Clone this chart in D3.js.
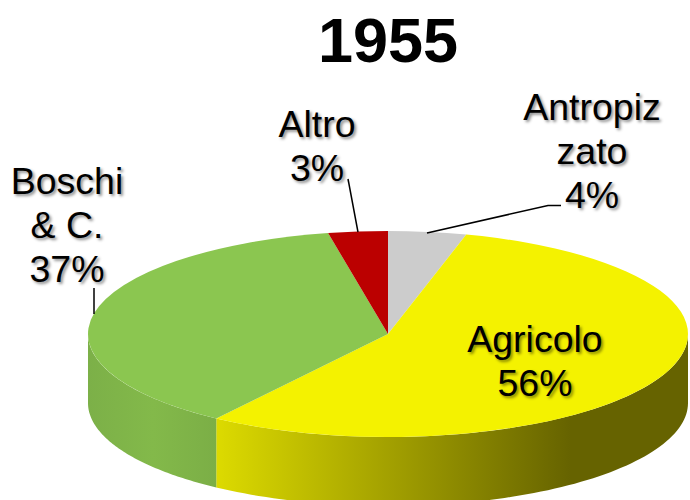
<!DOCTYPE html>
<html>
<head>
<meta charset="utf-8">
<script src="https://cdn.jsdelivr.net/npm/d3@7"></script>
<style>
  html, body { margin: 0; padding: 0; background: #fff; }
  svg { display: block; }
  text { font-family: "Liberation Sans", Arial, sans-serif; fill: #000; }
  .lab { font-size: 37.5px; text-shadow: 2px 2px 3px rgba(0,0,0,0.45); }
</style>
</head>
<body>
<div id="pie_chart"></div>
<script>
const title = "1955";
const categories = ["Antropizzato", "Agricolo", "Boschi & C.", "Altro"];
// slice sizes as measured on the picture, the printed labels are rounded
const values = [4.2, 55.5, 37.1, 3.2];
const labelLines = [["Antropiz", "zato", "4%"], ["Agricolo", "56%"], ["Boschi", "& C.", "37%"], ["Altro", "3%"]];

const topColors = ["#cccccc", "#f4f200", "#8bc650", "#bb0000"];

const width = 690, height = 500;
const cx = 388, cy = 334, rx = 300, ry = 103, depth = 69;

// where each label sits, and its leader line (same order as categories)
const labelPos = [
  {x: 592, y: 120, line: [[561, 205.5], [548, 205.5], [427, 233]]},
  {x: 535, y: 352, line: null},
  {x: 67, y: 194, line: [[94, 288], [94, 314]]},
  {x: 317, y: 137, line: [[348, 179], [358, 232]]}
];

var svg = d3.select("#pie_chart")
  .append("svg")
    .attr("width", width)
    .attr("height", height);

var defs = svg.append("defs");

// walls are shaded left to right
var xShade = d3.scaleLinear().domain([0, 1]).range([218, 688]);
var yellowGrad = defs.append("linearGradient")
    .attr("id", "wallYellow")
    .attr("gradientUnits", "userSpaceOnUse")
    .attr("x1", xShade(0)).attr("x2", xShade(1)).attr("y1", 0).attr("y2", 0);
yellowGrad.append("stop").attr("offset", "0").attr("stop-color", "#dcda00");
yellowGrad.append("stop").attr("offset", "0.75").attr("stop-color", "#666300");
yellowGrad.append("stop").attr("offset", "1").attr("stop-color", "#666300");

var greenGrad = defs.append("linearGradient")
    .attr("id", "wallGreen")
    .attr("gradientUnits", "userSpaceOnUse")
    .attr("x1", 88).attr("x2", 218).attr("y1", 0).attr("y2", 0);
greenGrad.append("stop").attr("offset", "0").attr("stop-color", "#7cb048");
greenGrad.append("stop").attr("offset", "0.5").attr("stop-color", "#83b94a");
greenGrad.append("stop").attr("offset", "1").attr("stop-color", "#7bae46");

var pie = d3.pie().sort(null).value(function(d) { return d; });
var arcs = pie(values);

var arc = d3.arc().innerRadius(0).outerRadius(rx);

// outer wall for the part of a slice that faces the viewer
function wallPath(d) {
  var a0 = Math.max(d.startAngle, Math.PI / 2),
      a1 = Math.min(d.endAngle, Math.PI * 1.5);
  if (a1 <= a0) return null;
  var steps = 80, top = [], bottom = [];
  d3.range(steps + 1).forEach(function(i) {
    var a = a0 + (a1 - a0) * i / steps;
    var px = cx + rx * Math.sin(a), py = cy - ry * Math.cos(a);
    top.push([px, py]);
    bottom.unshift([px, py + depth]);
  });
  return d3.line()(top.concat(bottom)) + "Z";
}

// Walls
svg.selectAll("path.wall")
  .data(arcs)
  .enter()
  .append("path")
    .attr("class", "wall")
    .attr("d", wallPath)
    .attr("fill", function(d, i) { return i == 1 ? "url(#wallYellow)" : "url(#wallGreen)"; });

// Top of the pie
svg.append("g")
    .attr("transform", "translate(" + cx + "," + cy + ") scale(1," + (ry / rx) + ")")
  .selectAll("path.slice")
  .data(arcs)
  .enter()
  .append("path")
    .attr("class", "slice")
    .attr("d", arc)
    .attr("fill", function(d, i) { return topColors[i]; });

// Leader lines
svg.selectAll("path.leader")
  .data(labelPos.filter(function(d) { return d.line; }))
  .enter()
  .append("path")
    .attr("class", "leader")
    .attr("d", function(d) { return d3.line()(d.line); })
    .attr("fill", "none")
    .attr("stroke", "#000")
    .attr("stroke-width", 1.5);

// Labels
var labels = svg.selectAll("text.lab")
  .data(labelLines)
  .enter()
  .append("text")
    .attr("class", "lab")
    .attr("text-anchor", "middle")
    .attr("y", function(d, i) { return labelPos[i].y; });

labels.selectAll("tspan")
  .data(function(d, i) { return d.map(function(t) { return {t: t, x: labelPos[i].x}; }); })
  .enter()
  .append("tspan")
    .attr("x", function(d) { return d.x; })
    .attr("dy", function(d, i) { return i == 0 ? 0 : 44; })
    .text(function(d) { return d.t; });

// Title
svg.append("text")
    .attr("x", 388)
    .attr("y", 62)
    .attr("text-anchor", "middle")
    .attr("font-size", 63)
    .attr("font-weight", "bold")
    .text(title);
</script>
</body>
</html>
